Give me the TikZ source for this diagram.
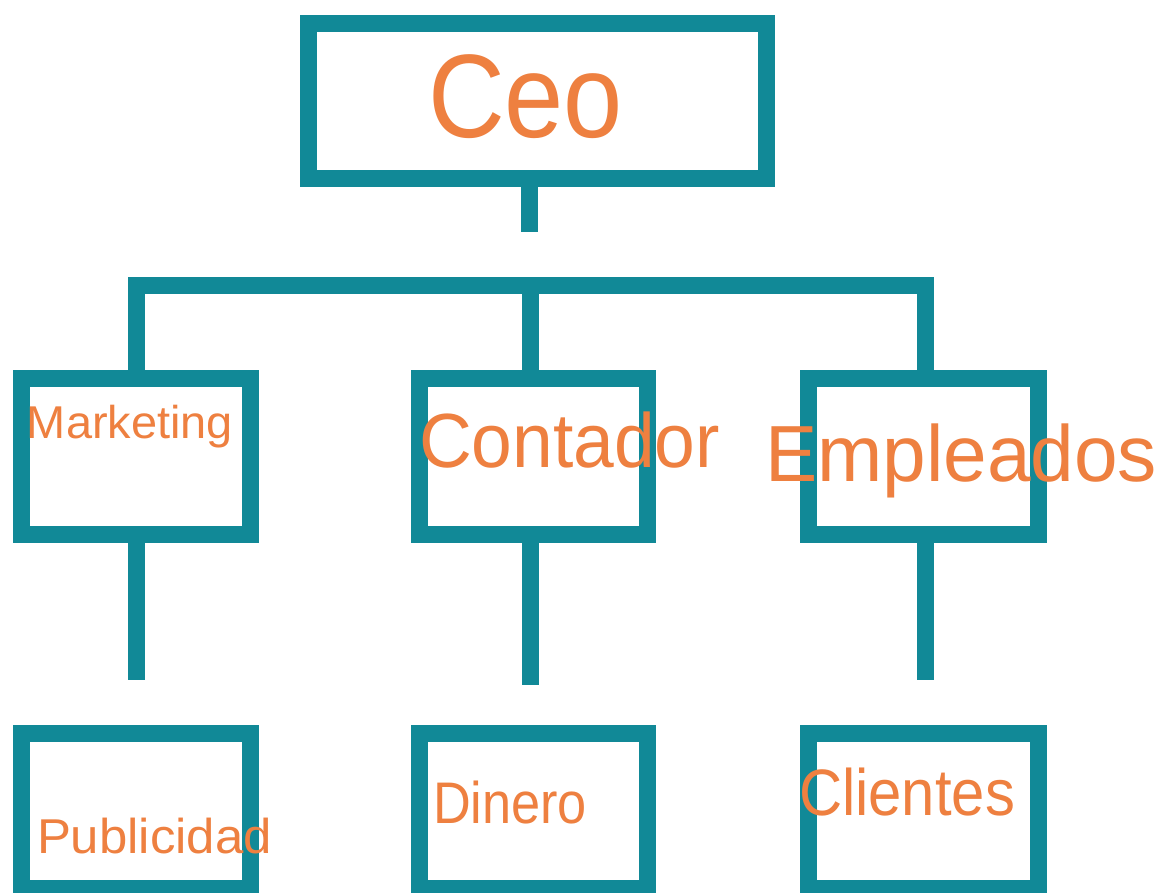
\documentclass[tikz,border=0pt]{standalone}
\usepackage{fontspec}
\setmainfont{Liberation Sans}
\usepackage{graphicx}
\definecolor{orgteal}{RGB}{17,137,151}
\definecolor{orgorange}{RGB}{238,128,64}
\newcommand\fitlbl[3]{\resizebox{#1pt}{\height}{\fontsize{#2}{#2}\selectfont #3}}
\tikzset{
  orgbox/.style={rectangle, draw=orgteal, line width=17pt, inner sep=0pt, outer sep=0pt},
  lbl/.style={text=orgorange, anchor=base west, inner sep=0pt, outer sep=0pt},
  conn/.style={draw=orgteal, line width=17pt, line cap=butt, line join=miter}
}
\begin{document}
\begin{tikzpicture}[x=1pt, y=-1pt]
\useasboundingbox (0,0) rectangle (1162,892);
\fill[white] (0,0) rectangle (1162,892);
% boxes
\node[orgbox, minimum width=458pt, minimum height=155.5pt] (ceo) at (537.5,100.75) {};
\node[orgbox, minimum width=229pt, minimum height=156pt] (mk) at (136,456.5) {};
\node[orgbox, minimum width=228pt, minimum height=156pt] (ct) at (533.5,456.5) {};
\node[orgbox, minimum width=230pt, minimum height=156pt] (em) at (923.5,456.5) {};
\node[orgbox, minimum width=229pt, minimum height=155pt] (pb) at (136,811) {};
\node[orgbox, minimum width=228pt, minimum height=155pt] (dn) at (533.5,811) {};
\node[orgbox, minimum width=230pt, minimum height=155pt] (cl) at (923.5,811) {};
% connectors
\coordinate (ceostub) at (529.5,232);
\coordinate (barL) at (136.5,285);
\coordinate (barC) at (530,285);
\coordinate (barR) at (925,285);
\coordinate (mkend) at (136.5,680);
\coordinate (ctend) at (530,685);
\coordinate (emend) at (925,680);
\draw[conn] (ceo.south -| ceostub) -- (ceostub);
\draw[conn] (mk.north -| barL) -- (barL) -- (barR) -- (em.north -| barR);
\draw[conn] (barC) -- (ct.north -| barC);
\draw[conn] (mk.south -| mkend) -- (mkend);
\draw[conn] (ct.south -| ctend) -- (ctend);
\draw[conn] (em.south -| emend) -- (emend);
% labels
\node[lbl] (tceo) at (428,137) {\fitlbl{195}{118.7}{Ceo}};
\node[lbl] (tmk) at (27,438) {\fitlbl{206}{46}{Marketing}};
\node[lbl] (tct) at (419,467) {\fitlbl{301}{76.8}{Contador}};
\node[lbl] (tem) at (765,481) {\fitlbl{392}{79.6}{Empleados}};
\node[lbl] (tpb) at (37,853) {\fitlbl{235}{48.9}{Publicidad}};
\node[lbl] (tdn) at (433,823) {\fitlbl{154}{58.7}{Dinero}};
\node[lbl] (tcl) at (799,815) {\fitlbl{216}{65.6}{Clientes}};
\end{tikzpicture}
\end{document}
